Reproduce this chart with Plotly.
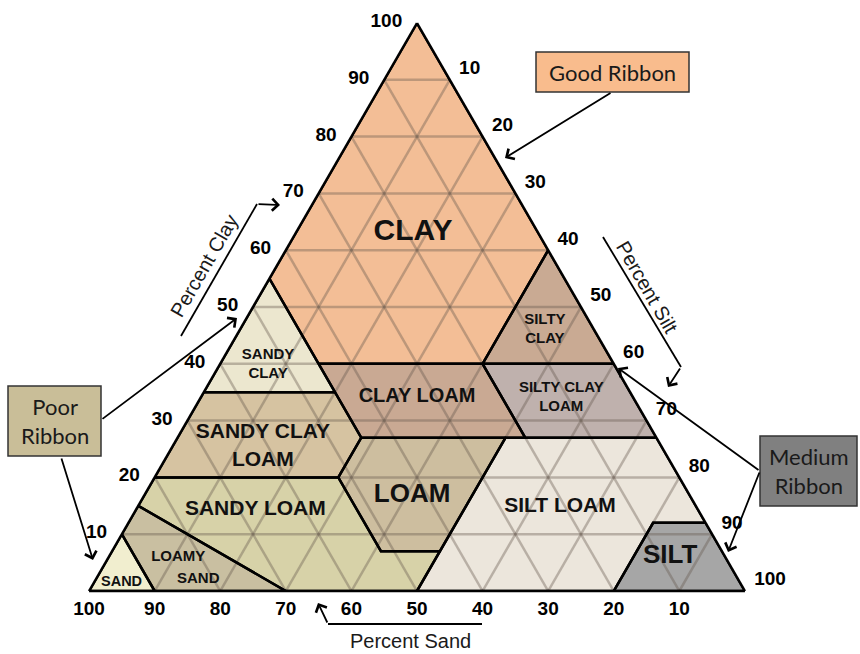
import plotly.graph_objects as go

W, H = 860, 654

# texture classes, vertices as (sand, silt, clay) in percent
sand_pts = [(100, 0, 0), (90, 0, 10), (90, 10, 0)]
loamy_sand_pts = [(90, 0, 10), (85, 0, 15), (70, 30, 0), (90, 10, 0)]
sandy_loam_pts = [(85, 0, 15), (80, 0, 20), (52, 28, 20), (52, 41, 7), (43, 50, 7), (50, 50, 0), (70, 30, 0)]
loam_pts = [(52, 28, 20), (45, 28, 27), (23, 50, 27), (43, 50, 7), (52, 41, 7)]
silt_loam_pts = [(50, 50, 0), (43, 50, 7), (23, 50, 27), (0, 73, 27), (0, 88, 12), (8, 80, 12), (20, 80, 0)]
silt_pts = [(20, 80, 0), (8, 80, 12), (0, 88, 12), (0, 100, 0)]
sandy_clay_loam_pts = [(80, 0, 20), (65, 0, 35), (45, 20, 35), (45, 28, 27), (52, 28, 20)]
clay_loam_pts = [(45, 15, 40), (20, 40, 40), (20, 53, 27), (45, 28, 27)]
silty_clay_loam_pts = [(20, 40, 40), (0, 60, 40), (0, 73, 27), (20, 53, 27)]
sandy_clay_pts = [(65, 0, 35), (45, 0, 55), (45, 20, 35)]
silty_clay_pts = [(20, 40, 40), (0, 40, 60), (0, 60, 40)]
clay_pts = [(45, 15, 40), (45, 0, 55), (0, 0, 100), (0, 40, 60), (20, 40, 40)]

# class names and where they are written (sand, silt, clay)
label_text = ["CLAY", "SILTY<br>CLAY", "SANDY<br>CLAY", "CLAY LOAM", "SILTY CLAY<br>LOAM",
              "SANDY CLAY<br>LOAM", "LOAM", "SANDY LOAM", "SILT LOAM", "SILT", "LOAMY", "SAND", "SAND"]
label_sand = [19, 7.5, 52.8, 32.9, 11, 60.8, 42.3, 67.5, 20.8, 8.4, 83.4, 82.3, 94.3]
label_silt = [17.8, 46.5, 7.4, 32.9, 55, 13.8, 40.8, 18.2, 64.4, 85.6, 10.6, 15.6, 4.2]
label_clay = [63.2, 46, 39.8, 34.2, 34, 25.4, 16.9, 14.3, 14.8, 6, 6, 2.1, 1.5]

tick_vals = [10, 20, 30, 40, 50, 60, 70, 80, 90, 100]

fills = [
    (clay_pts, "#F3BE96"),
    (silty_clay_pts, "#C9AA93"),
    (sandy_clay_pts, "#ECE7CF"),
    (clay_loam_pts, "#C9A993"),
    (silty_clay_loam_pts, "#BFB1AD"),
    (sandy_clay_loam_pts, "#D6C3A1"),
    (loam_pts, "#CDBE9F"),
    (sandy_loam_pts, "#D7D2A8"),
    (silt_loam_pts, "#ECE6DC"),
    (silt_pts, "#A6A6A6"),
    (loamy_sand_pts, "#C9BFA1"),
    (sand_pts, "#F1EECF"),
]
label_size = [30, 15, 15, 20, 15, 21, 26, 21, 21, 26, 15, 15, 14.5]


def px(x):
    return x / W


def py(y):
    return 1 - y / H


fig = go.Figure()
for pts, col in fills:
    pts = pts + pts[:1]
    fig.add_trace(go.Scatterternary(
        b=[p[0] for p in pts], c=[p[1] for p in pts], a=[p[2] for p in pts],
        mode="lines", fill="toself", fillcolor=col,
        line=dict(color=col, width=0), hoverinfo="skip"))

# 10% grid drawn over the fills
gb, gc, ga = [], [], []
for v in tick_vals[:-1]:
    for seg in [((100 - v, 0, v), (0, 100 - v, v)),
                ((v, 0, 100 - v), (v, 100 - v, 0)),
                ((0, v, 100 - v), (100 - v, v, 0))]:
        for p in seg:
            gb.append(p[0]); gc.append(p[1]); ga.append(p[2])
        gb.append(None); gc.append(None); ga.append(None)
fig.add_trace(go.Scatterternary(b=gb, c=gc, a=ga, mode="lines",
                                line=dict(color="rgba(100,88,76,0.38)", width=2.5),
                                hoverinfo="skip"))

for pts, col in fills:
    pts = pts + pts[:1]
    fig.add_trace(go.Scatterternary(
        b=[p[0] for p in pts], c=[p[1] for p in pts], a=[p[2] for p in pts],
        mode="lines", line=dict(color="black", width=2.5), hoverinfo="skip"))

fig.add_trace(go.Scatterternary(
    b=label_sand, c=label_silt, a=label_clay, mode="text",
    text=["<b>%s</b>" % t for t in label_text],
    textfont=dict(family="Liberation Sans", size=label_size, color="#111"),
    hoverinfo="skip"))

axis = dict(tickmode="array", tickvals=tick_vals, ticks="outside", ticklen=11,
            tickcolor="rgba(0,0,0,0)", showline=True,
            linecolor="black", linewidth=2.5, showgrid=False, layer="above traces",
            tickfont=dict(family="Liberation Sans", size=19, color="black", weight="bold"),
            title=dict(text=""))
baxis = dict(axis, ticks="", ticklen=0)

fig.update_layout(
    width=W, height=H, margin=dict(l=0, r=0, t=0, b=0),
    paper_bgcolor="white", showlegend=False,
    ternary=dict(sum=100, bgcolor="white",
                 domain=dict(x=[px(89), px(745)], y=[py(591), py(23)]),
                 aaxis=axis, baxis=baxis, caxis=axis),
)

# ribbon boxes
boxes = [((536, 52, 689, 92), "#F9BC8D", "Good Ribbon"),
         ((8, 386, 101, 456), "#C9BE98", "Poor<br>Ribbon"),
         ((760, 436, 857, 506), "#808080", "Medium<br>Ribbon")]
for (x0, y0, x1, y1), col, txt in boxes:
    fig.add_shape(type="rect", xref="paper", yref="paper",
                  x0=px(x0), x1=px(x1), y0=py(y0), y1=py(y1),
                  fillcolor=col, line=dict(color="#333", width=1.5))
    fig.add_annotation(xref="paper", yref="paper", x=px((x0 + x1) / 2), y=py((y0 + y1) / 2),
                       xanchor="center", yanchor="middle",
                       text=txt, showarrow=False,
                       font=dict(family="Lato", size=22, color="#1a1a1a"))

# axis title guide lines
for (x0, y0, x1, y1) in [(181, 336, 257, 204), (603, 237, 681, 367), (482, 624, 328, 624)]:
    fig.add_shape(type="line", xref="paper", yref="paper",
                  x0=px(x0), y0=py(y0), x1=px(x1), y1=py(y1),
                  line=dict(color="black", width=1.8))

# arrows: (tail, tip)
arrows = [((257, 204), (280, 205)), ((681, 367), (668, 387)), ((328, 624), (318, 603)),
          ((612, 92), (505, 158)), ((101, 420), (237, 318)), ((61, 457), (93, 560)),
          ((760, 471), (618, 368)), ((760, 471), (728, 552))]
for (tx, ty), (hx, hy) in arrows:
    fig.add_annotation(xref="paper", yref="paper", x=px(hx), y=py(hy),
                       ax=tx - hx, ay=ty - hy, axref="pixel", ayref="pixel",
                       text="", showarrow=True, arrowhead=4, arrowsize=1.3,
                       arrowwidth=1.8, arrowcolor="black")

for txt, (x, y), ang in [("Percent Clay", (204, 266), -60), ("Percent Silt", (647, 287), 60),
                         ("Percent Sand", (410, 641), 0)]:
    fig.add_annotation(xref="paper", yref="paper", x=px(x), y=py(y), text=txt,
                       xanchor="center", yanchor="middle",
                       textangle=ang, showarrow=False,
                       font=dict(family="Liberation Sans", size=20, color="#1a1a1a"))

fig.write_html("out.html", config={"displayModeBar": False},
               post_script="document.body.style.margin='0px';")
